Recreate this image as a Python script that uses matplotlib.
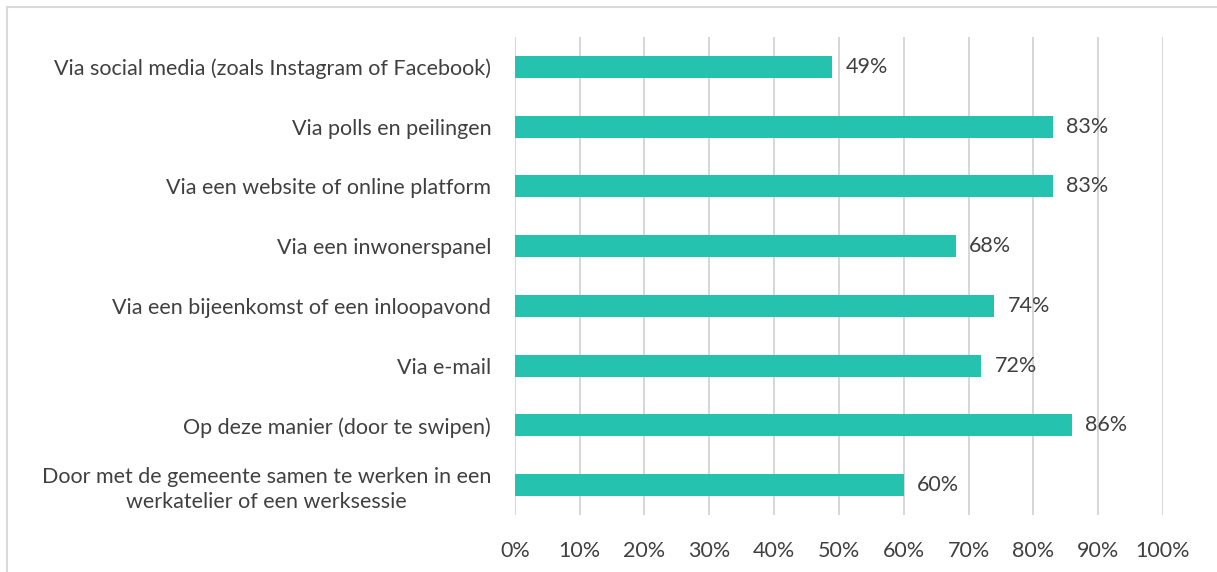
import matplotlib.pyplot as plt
from matplotlib.patches import Rectangle

# Categories (top to bottom) and percentages
categories = [
    "Via social media (zoals Instagram of Facebook)",
    "Via polls en peilingen",
    "Via een website of online platform",
    "Via een inwonerspanel",
    "Via een bijeenkomst of een inloopavond",
    "Via e-mail",
    "Op deze manier (door te swipen)",
    "Door met de gemeente samen te werken in een\nwerkatelier of een werksessie",
]
values = [49, 83, 83, 68, 74, 72, 86, 60]
xticks = list(range(0, 101, 10))

plt.rcParams['font.family'] = ['Lato', 'DejaVu Sans']
text_color = '#404040'
bar_color = '#26C2B0'
fs = 15.5

fig = plt.figure(figsize=(12.17, 5.72), dpi=100)
ax = fig.add_axes([0.423, 0.0997, 0.5326, 0.8356])

ypos = list(range(len(categories)))
bars = ax.barh(ypos, values, height=0.37, color=bar_color, zorder=3)
ax.set_ylim(len(categories) - 0.5, -0.5)
ax.set_xlim(0, 100)

ax.set_yticks(ypos)
ax.set_yticklabels(categories, fontsize=fs, color=text_color, ha='right',
                   multialignment='center', linespacing=1.3)
ax.set_xticks(xticks)
ax.set_xticklabels([f"{t}%" for t in xticks], fontsize=fs, color=text_color)
ax.tick_params(axis='y', length=0, pad=17)
ax.tick_params(axis='x', length=0, pad=19)

ax.grid(axis='x', color='#D0D0D0', linewidth=1.2, zorder=0)
for s in ax.spines.values():
    s.set_visible(False)

for bar, v in zip(bars, values):
    ax.text(bar.get_width() + 2.0, bar.get_y() + bar.get_height() / 2, f"{v}%",
            va='center', ha='left', fontsize=fs, color=text_color)

# light chart border, cut off at right and bottom like the reference
fig.patches.append(Rectangle((7 / 1217, -0.1), 1.2, 1 - 7 / 572 + 0.1,
                             transform=fig.transFigure, fill=False,
                             edgecolor='#D9D9D9', linewidth=1.5))

fig.savefig('out.png', dpi=100)
